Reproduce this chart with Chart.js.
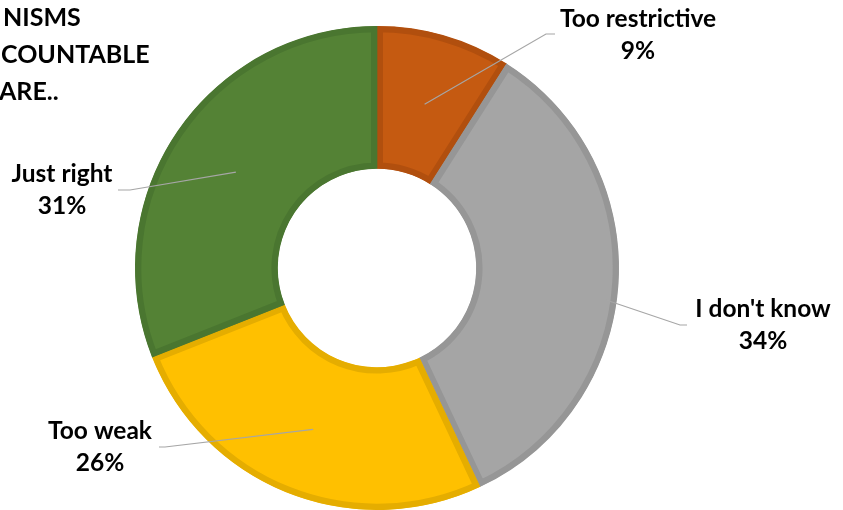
<!DOCTYPE html>
<html>
<head>
<meta charset="utf-8">
<script src="https://cdn.jsdelivr.net/npm/chart.js@4.4.1/dist/chart.umd.min.js"></script>
<style>
  html, body { margin: 0; padding: 0; background: #ffffff; }
  #wrap { position: relative; width: 843px; height: 510px; }
</style>
</head>
<body>
<div id="wrap"><canvas id="c" width="843" height="510"></canvas></div>
<script>
// ---- data ----
const categories = ["Too restrictive", "I don't know", "Too weak", "Just right"];
const shares = [9, 34, 26, 31];
const percentLabels = ["9%", "34%", "26%", "31%"];
const titleLines = ["NISMS", "COUNTABLE", "ARE.."];

// ---- styling ----
const fills = ["#C55A11", "#A5A5A5", "#FFC000", "#548235"];
const borders = ["#B14F0E", "#969696", "#E5AD00", "#4A7630"];
const FONT = "Lato, 'Open Sans', sans-serif";

// label layout: text centre x, first baseline y, leader start, elbow, anchor tweak
const labelLayout = [
  { cx: 638, by: 27, start: [555, 34], elbow: [546, 34], angShift: 0, rFrac: 0.5 },
  { cx: 763, by: 317, start: [687, 325], elbow: [680, 325], angShift: 4.4, rFrac: 0.93 },
  { cx: 100, by: 439, start: [159, 447], elbow: [165, 447], angShift: 0, rFrac: 0.52 },
  { cx: 62, by: 182, start: [118, 190], elbow: [130, 190], angShift: 0, rFrac: 0.5 }
];

const labelPlugin = {
  id: 'labels',
  afterDraw(chart) {
    const ctx = chart.ctx;
    const meta = chart.getDatasetMeta(0);
    ctx.save();
    // title fragments (cropped in the original)
    ctx.fillStyle = '#000000';
    ctx.font = "bold 25px " + FONT;
    ctx.textAlign = 'left';
    ctx.textBaseline = 'alphabetic';
    const titleX = [3, 1, -1];
    const titleY = [26, 63, 100];
    titleLines.forEach((t, i) => ctx.fillText(t, titleX[i], titleY[i]));

    meta.data.forEach((arc, i) => {
      const p = arc.getProps(['x', 'y', 'startAngle', 'endAngle', 'innerRadius', 'outerRadius'], true);
      const L = labelLayout[i];
      const mid = (p.startAngle + p.endAngle) / 2 + L.angShift * Math.PI / 180;
      const r = p.innerRadius + (p.outerRadius - p.innerRadius) * L.rFrac;
      const ax = p.x + Math.cos(mid) * r;
      const ay = p.y + Math.sin(mid) * r;
      ctx.strokeStyle = '#A6A6A6';
      ctx.lineWidth = 1.2;
      ctx.beginPath();
      ctx.moveTo(L.start[0], L.start[1]);
      ctx.lineTo(L.elbow[0], L.elbow[1]);
      ctx.lineTo(ax, ay);
      ctx.stroke();

      ctx.fillStyle = '#000000';
      ctx.font = "bold 24.5px " + FONT;
      ctx.textAlign = 'center';
      ctx.fillText(categories[i], L.cx, L.by);
      ctx.fillText(percentLabels[i], L.cx, L.by + 32);
    });
    ctx.restore();
  }
};

new Chart(document.getElementById('c'), {
  type: 'doughnut',
  data: {
    labels: categories,
    datasets: [{
      data: shares,
      backgroundColor: fills,
      borderColor: borders,
      borderWidth: 6,
      borderAlign: 'inner'
    }]
  },
  options: {
    responsive: false,
    animation: false,
    cutout: '41%',
    rotation: 0,
    layout: { padding: { left: 135, right: 224, top: 26, bottom: 0 } },
    plugins: {
      legend: { display: false },
      tooltip: { enabled: false },
      title: { display: false }
    },
    events: []
  },
  plugins: [labelPlugin]
});
</script>
</body>
</html>
